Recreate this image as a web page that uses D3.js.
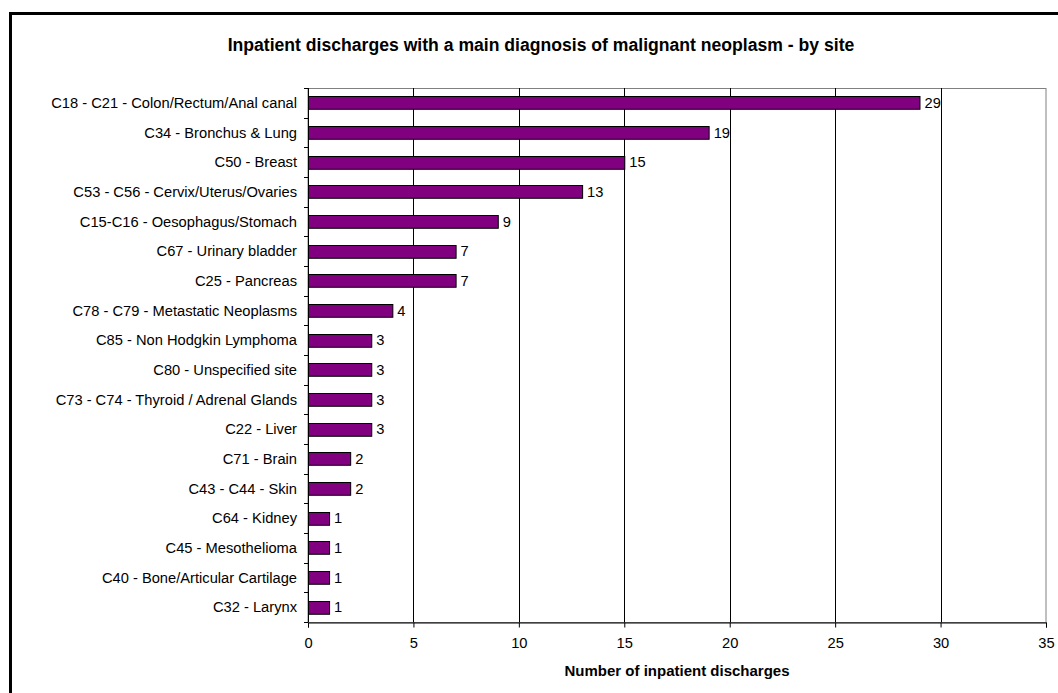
<!DOCTYPE html>
<html>
<head>
<meta charset="utf-8">
<script src="https://cdn.jsdelivr.net/npm/d3@7"></script>
<style>
  body { margin: 0; background: #fff; }
  svg { display: block; font-family: Arial, "Liberation Sans", sans-serif; }
</style>
</head>
<body>
<script>
// data, top to bottom
let sites = [
  "C18 - C21 - Colon/Rectum/Anal canal",
  "C34 - Bronchus & Lung",
  "C50 - Breast",
  "C53 - C56 - Cervix/Uterus/Ovaries",
  "C15-C16 - Oesophagus/Stomach",
  "C67 - Urinary bladder",
  "C25 - Pancreas",
  "C78 - C79 - Metastatic Neoplasms",
  "C85 - Non Hodgkin Lymphoma",
  "C80 - Unspecified site",
  "C73 - C74 - Thyroid / Adrenal Glands",
  "C22 - Liver",
  "C71 - Brain",
  "C43 - C44 - Skin",
  "C64 - Kidney",
  "C45 - Mesothelioma",
  "C40 - Bone/Articular Cartilage",
  "C32 - Larynx"
];
let discharges = [29, 19, 15, 13, 9, 7, 7, 4, 3, 3, 3, 3, 2, 2, 1, 1, 1, 1];
let xTicks = [0, 5, 10, 15, 20, 25, 30, 35];

let width = 1058, height = 693;
let plotLeft = 308, plotRight = 1046, plotTop = 88, plotBottom = 622;

let svg = d3.select("body").append("svg")
  .attr("width", width)
  .attr("height", height);

// outer frame (runs off the right and bottom edge)
svg.append("rect")
  .attr("x", 10.5).attr("y", 13.5)
  .attr("width", 1100).attr("height", 800)
  .attr("fill", "#fff")
  .attr("stroke", "#000")
  .attr("stroke-width", 3);

let x = d3.scaleLinear().domain([0, 35]).range([plotLeft, plotRight]);
let y = d3.scaleBand().domain(sites).range([plotTop, plotBottom]).paddingInner(0.57).paddingOuter(0.285);
let band = d3.scaleBand().domain(sites).range([plotTop, plotBottom]);

// plot area border
svg.append("rect")
  .attr("x", plotLeft).attr("y", plotTop + 0.5)
  .attr("width", plotRight - plotLeft).attr("height", plotBottom - plotTop)
  .attr("fill", "none")
  .attr("stroke", "#808080");

// vertical gridlines
svg.selectAll(".grid")
  .data(xTicks.slice(1, -1))
  .enter().append("line")
  .attr("x1", d => Math.round(x(d)) + 0.5)
  .attr("x2", d => Math.round(x(d)) + 0.5)
  .attr("y1", plotTop).attr("y2", plotBottom)
  .attr("stroke", "#000");

// bars
svg.selectAll(".bar")
  .data(discharges)
  .enter().append("rect")
  .attr("x", x(0) + 0.5)
  .attr("y", (d, i) => Math.round(y(sites[i])) + 0.5)
  .attr("width", d => x(d) - x(0))
  .attr("height", y.bandwidth())
  .attr("fill", "#800080")
  .attr("stroke", "#000");

// value labels
svg.selectAll(".val")
  .data(discharges)
  .enter().append("text")
  .attr("x", d => x(d) + 5)
  .attr("y", (d, i) => y(sites[i]) + y.bandwidth() / 2)
  .attr("dy", "0.36em")
  .style("font-size", "14.7px")
  .text(d => d);

// y axis
let yAxis = svg.append("g");
yAxis.append("line")
  .attr("x1", plotLeft + 0.5).attr("x2", plotLeft + 0.5)
  .attr("y1", plotTop).attr("y2", plotBottom)
  .attr("stroke", "#000");
yAxis.selectAll(".ytick")
  .data(d3.range(sites.length + 1))
  .enter().append("line")
  .attr("x1", plotLeft - 4).attr("x2", plotLeft)
  .attr("y1", i => Math.round(plotTop + i * band.step()) + 0.5)
  .attr("y2", i => Math.round(plotTop + i * band.step()) + 0.5)
  .attr("stroke", "#000");
yAxis.selectAll(".ylab")
  .data(sites)
  .enter().append("text")
  .attr("x", plotLeft - 11)
  .attr("y", d => band(d) + band.bandwidth() / 2)
  .attr("dy", "0.36em")
  .attr("text-anchor", "end")
  .style("font-size", "14.7px")
  .text(d => d);

// x axis
let xAxis = svg.append("g").attr("transform", "translate(0," + (plotBottom + 0.5) + ")")
  .call(d3.axisBottom(x).tickValues(xTicks).tickSize(5).tickPadding(10));
xAxis.select(".domain").attr("stroke", "#000");
xAxis.selectAll(".tick line").attr("stroke", "#000");
xAxis.selectAll("text")
  .style("font-family", "Arial, 'Liberation Sans', sans-serif")
  .style("font-size", "14.7px")
  .attr("fill", "#000");

// titles
svg.append("text")
  .attr("x", 541).attr("y", 51)
  .attr("text-anchor", "middle")
  .style("font-size", "17.6px")
  .style("font-weight", "bold")
  .text("Inpatient discharges with a main diagnosis of malignant neoplasm - by site");

svg.append("text")
  .attr("x", (plotLeft + plotRight) / 2).attr("y", 676)
  .attr("text-anchor", "middle")
  .style("font-size", "15px")
  .style("font-weight", "bold")
  .text("Number of inpatient discharges");
</script>
</body>
</html>
